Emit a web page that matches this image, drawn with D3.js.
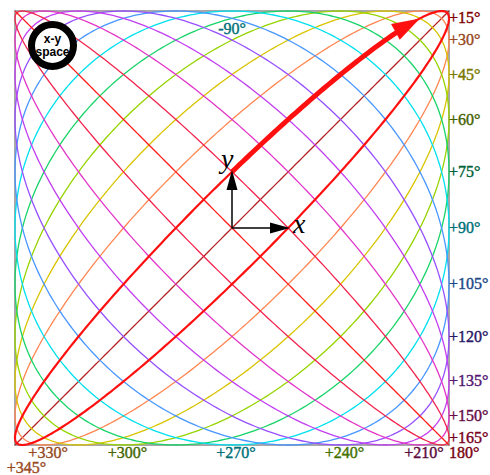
<!DOCTYPE html>
<html>
<head>
<meta charset="utf-8">
<script src="https://cdn.jsdelivr.net/npm/d3@7"></script>
<style>
  html, body { margin: 0; padding: 0; background: #fff; }
  svg { display: block; }
</style>
</head>
<body>
<div id="chart"></div>
<script>
// phase offsets of the x-y curves (x = cos t, y = cos(t + phase))
const PHASES = [0, 15, 30, 45, 60, 75, 90, 105, 120, 135, 150, 165, 180];
const CURVE_COLORS = ["#b22222", "#ff1010", "#ff8650", "#d8c400", "#96d400", "#18d468", "#00e0ee",
  "#4896ff", "#9650ff", "#c23ef2", "#e236c8", "#f2244e", "#ff1a1a"];

// labels on the right edge (where each curve touches x = 1)
const RIGHT_PHASES = [15, 30, 45, 60, 75, 90, 105, 120, 135, 150, 165];
const RIGHT_LABELS = ["+15°", "+30°", "+45°", "+60°", "+75°", "+90°", "+105°", "+120°", "+135°", "+150°", "+165°"];
const RIGHT_COLORS = ["#800000", "#984a24", "#787800", "#436300", "#006236", "#007078", "#1c4888",
  "#281866", "#541672", "#640c48", "#78001c"];

// labels under the bottom edge (where each curve touches y = -1)
const BOTTOM_PHASES = [180, 210, 240, 270, 300, 330, 345];
const BOTTOM_LABELS = ["180°", "+210°", "+240°", "+270°", "+300°", "+330°", "+345°"];
const BOTTOM_COLORS = ["#78000e", "#5a0c3c", "#447200", "#007078", "#446800", "#984a24", "#984a24"];

// label inside the top edge (where the curve touches y = 1)
const TOP_PHASES = [-90];
const TOP_LABELS = ["-90°"];
const TOP_COLORS = ["#007078"];

const HIGHLIGHT_PHASE = 15;
const ARROW_RANGE = [-90, -30];

const width = 490, height = 475;
const rad = Math.PI / 180;

const svg = d3.select("#chart").append("svg")
  .attr("width", width)
  .attr("height", height);

const x = d3.scaleLinear().domain([-1, 1]).range([15, 449]);
const y = d3.scaleLinear().domain([-1, 1]).range([445, 11]);

function curvePoints(phase, t0, t1) {
  const pts = [];
  for (let t = t0; t <= t1 + 1e-9; t += 1) {
    pts.push([Math.cos(t * rad), Math.cos((t + phase) * rad)]);
  }
  return pts;
}

const line = d3.line().x((d) => x(d[0])).y((d) => y(d[1]));

// frame
svg.append("rect")
  .attr("x", x(-1)).attr("y", y(1))
  .attr("width", x(1) - x(-1)).attr("height", y(-1) - y(1))
  .attr("fill", "none")
  .attr("stroke", "#a8a8a8")
  .attr("stroke-width", 2);

// curves (highlighted one drawn last)
const order = PHASES.map((p, i) => i).filter((i) => PHASES[i] !== HIGHLIGHT_PHASE);
order.push(PHASES.indexOf(HIGHLIGHT_PHASE));

svg.append("g")
  .selectAll("path")
  .data(order)
  .join("path")
  .attr("d", (i) => line(curvePoints(PHASES[i], 0, 360)))
  .attr("fill", "none")
  .attr("stroke", (i) => CURVE_COLORS[i])
  .attr("stroke-width", (i) => (PHASES[i] === HIGHLIGHT_PHASE ? 2.2 : 1.3));

// thick arrow along the highlighted curve
const tipT = ARROW_RANGE[1];
const tip = [x(Math.cos(tipT * rad)), y(Math.cos((tipT + HIGHLIGHT_PHASE) * rad))];
const back = [x(Math.cos((tipT - 4) * rad)), y(Math.cos((tipT - 4 + HIGHLIGHT_PHASE) * rad))];
const len = Math.hypot(tip[0] - back[0], tip[1] - back[1]);
const u = [(tip[0] - back[0]) / len, (tip[1] - back[1]) / len];
const nrm = [-u[1], u[0]];
const headLen = 28, headHalf = 9;
const base = [tip[0] - headLen * u[0], tip[1] - headLen * u[1]];

svg.append("path")
  .attr("d", line(curvePoints(HIGHLIGHT_PHASE, ARROW_RANGE[0], tipT - 6)))
  .attr("fill", "none")
  .attr("stroke", "#ff1010")
  .attr("stroke-width", 5);

svg.append("polygon")
  .attr("points", [
    tip,
    [base[0] + headHalf * nrm[0], base[1] + headHalf * nrm[1]],
    [base[0] - headHalf * nrm[0], base[1] - headHalf * nrm[1]],
  ].map((p) => p.join(",")).join(" "))
  .attr("fill", "#ff1010");

// x / y axes with arrows
const axes = svg.append("g");
const ox = x(0), oy = y(0);
axes.append("line").attr("x1", ox).attr("y1", oy).attr("x2", ox + 46).attr("y2", oy)
  .attr("stroke", "#000").attr("stroke-width", 1.5);
axes.append("polygon")
  .attr("points", `${ox + 58},${oy} ${ox + 38},${oy - 5.5} ${ox + 38},${oy + 5.5}`)
  .attr("fill", "#000");
axes.append("line").attr("x1", ox).attr("y1", oy).attr("x2", ox).attr("y2", oy - 46)
  .attr("stroke", "#000").attr("stroke-width", 1.5);
axes.append("polygon")
  .attr("points", `${ox},${oy - 58} ${ox - 5.5},${oy - 38} ${ox + 5.5},${oy - 38}`)
  .attr("fill", "#000");
axes.append("text")
  .attr("x", ox + 61).attr("y", oy + 5)
  .attr("font-family", "'Liberation Serif', 'Times New Roman', serif")
  .attr("font-style", "italic")
  .attr("font-size", 28)
  .text("x");
axes.append("text")
  .attr("x", ox - 11).attr("y", oy - 60)
  .attr("font-family", "'Liberation Serif', 'Times New Roman', serif")
  .attr("font-style", "italic")
  .attr("font-size", 28)
  .text("y");

// phase labels
const labelFont = "'Liberation Serif', 'Times New Roman', serif";

function styleLabel(sel, colors) {
  sel.attr("font-family", labelFont)
    .attr("font-size", 16)
    .attr("fill", (p, i) => colors[i])
    .attr("stroke", (p, i) => colors[i])
    .attr("stroke-width", 0.4);
}

svg.append("g")
  .selectAll("text")
  .data(RIGHT_PHASES)
  .join("text")
  .attr("x", x(1))
  .attr("y", (p) => y(Math.cos(p * rad)) + 5)
  .call(styleLabel, RIGHT_COLORS)
  .text((p, i) => RIGHT_LABELS[i]);

svg.append("g")
  .selectAll("text")
  .data(BOTTOM_PHASES)
  .join("text")
  .attr("x", (p) => (p === 180 ? x(1) : x(-Math.cos(p * rad)) + 4))
  .attr("y", (p) => y(-1) + (p === 345 ? 28 : 13))
  .attr("text-anchor", (p) => (p === 180 ? "start" : "middle"))
  .call(styleLabel, BOTTOM_COLORS)
  .text((p, i) => BOTTOM_LABELS[i]);

svg.append("g")
  .selectAll("text")
  .data(TOP_PHASES)
  .join("text")
  .attr("x", (p) => x(Math.cos(p * rad)))
  .attr("y", y(1) + 23)
  .attr("text-anchor", "middle")
  .call(styleLabel, TOP_COLORS)
  .text((p, i) => TOP_LABELS[i]);

// "x-y space" badge
const badge = svg.append("g").attr("transform", "translate(52.5,45.5)");
badge.append("circle").attr("r", 21)
  .attr("fill", "#fff").attr("stroke", "#000").attr("stroke-width", 7);
badge.append("text").attr("y", -3).attr("text-anchor", "middle")
  .attr("font-family", "'Liberation Sans', Arial, sans-serif")
  .attr("font-weight", "bold").attr("font-size", 12)
  .text("x-y");
badge.append("text").attr("y", 10).attr("text-anchor", "middle")
  .attr("font-family", "'Liberation Sans', Arial, sans-serif")
  .attr("font-weight", "bold").attr("font-size", 12)
  .text("space");
</script>
</body>
</html>
